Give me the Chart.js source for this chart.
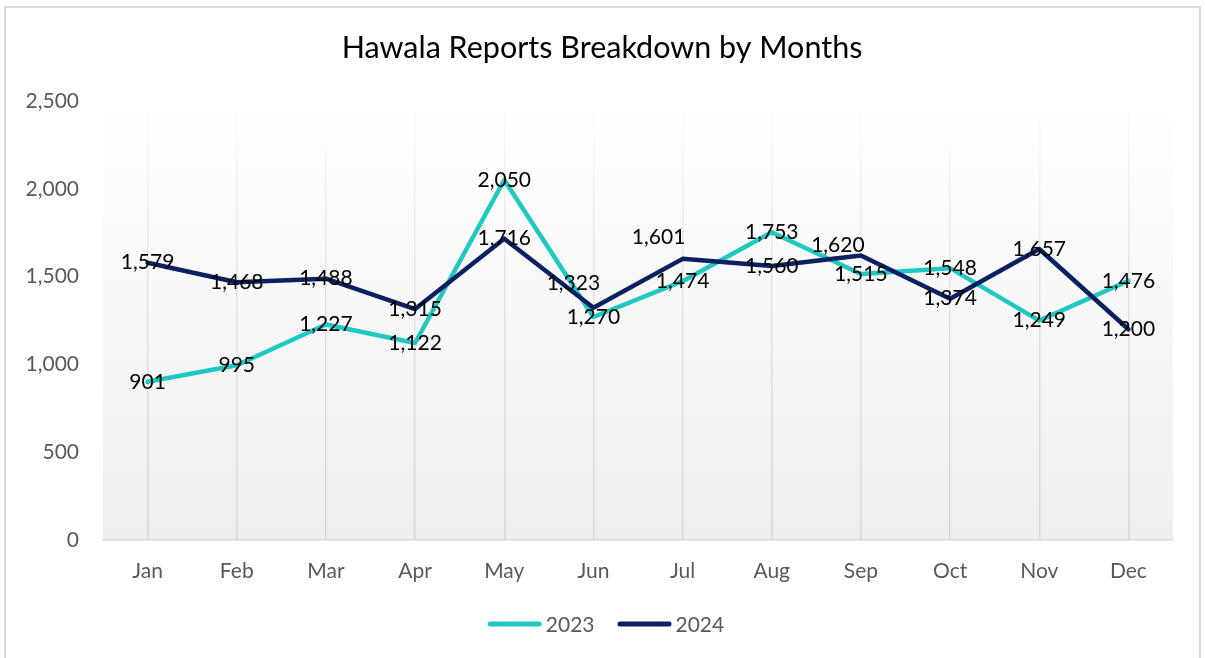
<!DOCTYPE html>
<html lang="en">
<head>
    <meta charset="UTF-8">
    <title>Hawala Reports Breakdown by Months</title>
    <script src="https://cdn.jsdelivr.net/npm/chart.js"></script>
    <style>
        body {
            margin: 0;
            padding: 0;
            background: #fff;
        }
        #chart {
            display: block;
        }
    </style>
</head>
<body>
    <canvas id="chart" width="1205" height="658"></canvas>

    <script>
        // chart data
        const months = ["Jan", "Feb", "Mar", "Apr", "May", "Jun", "Jul", "Aug", "Sep", "Oct", "Nov", "Dec"];
        const reports2023 = [901, 995, 1227, 1122, 2050, 1270, 1474, 1753, 1515, 1548, 1249, 1476];
        const reports2024 = [1579, 1468, 1488, 1315, 1716, 1323, 1601, 1560, 1620, 1374, 1657, 1200];
        const yTicks = [0, 500, 1000, 1500, 2000, 2500];
        const chartTitle = "Hawala Reports Breakdown by Months";

        const FONT = "Lato, 'Open Sans', sans-serif";

        // a few labels were nudged by hand in the original (dataset index -> point index -> [dx, dy])
        const labelNudge = {
            1: { 5: [-20, -24], 6: [-24, -22], 8: [-23, -10] }
        };

        // outer frame + plot gradient + title (title centred on the whole frame)
        const backgroundPlugin = {
            id: "background",
            beforeDraw(chart) {
                const { ctx, chartArea } = chart;
                ctx.save();
                ctx.fillStyle = "#fff";
                ctx.fillRect(0, 0, chart.width, chart.height);
                ctx.strokeStyle = "#d9d9d9";
                ctx.lineWidth = 2;
                ctx.strokeRect(5, 7, 1195, 700);
                const g = ctx.createLinearGradient(0, chartArea.top, 0, chartArea.bottom);
                g.addColorStop(0, "#ffffff");
                g.addColorStop(1, "#efefef");
                ctx.fillStyle = g;
                ctx.fillRect(chartArea.left, chartArea.top, chartArea.right - chartArea.left, chartArea.bottom - chartArea.top);

                ctx.fillStyle = "#000";
                ctx.font = "30.5px " + FONT;
                ctx.textAlign = "center";
                ctx.textBaseline = "middle";
                ctx.fillText(chartTitle, 602, 48);
                ctx.restore();
            }
        };

        // value labels on each point
        const valueLabels = {
            id: "valueLabels",
            afterDatasetsDraw(chart) {
                const { ctx } = chart;
                ctx.save();
                ctx.font = "21px " + FONT;
                ctx.fillStyle = "#000";
                ctx.textAlign = "center";
                ctx.textBaseline = "middle";
                chart.data.datasets.forEach((ds, di) => {
                    const meta = chart.getDatasetMeta(di);
                    meta.data.forEach((pt, i) => {
                        const nudge = (labelNudge[di] && labelNudge[di][i]) || [0, 0];
                        ctx.fillText(ds.data[i].toLocaleString("en-US"), pt.x + nudge[0], pt.y + nudge[1]);
                    });
                });
                ctx.restore();
            }
        };

        // legend drawn by hand so the spacing matches (line, small gap, text)
        const lineLegend = {
            id: "lineLegend",
            afterDraw(chart) {
                const { ctx } = chart;
                const lineW = 54, gap = 4, itemGap = 23, y = 624, cx = 606;
                ctx.save();
                ctx.font = "21px " + FONT;
                ctx.textBaseline = "middle";
                const items = chart.data.datasets.map(ds => ({ ds, w: ctx.measureText(ds.label).width }));
                const total = items.reduce((s, it) => s + lineW + gap + it.w, 0) + itemGap * (items.length - 1);
                let x = cx - total / 2;
                items.forEach(({ ds, w }) => {
                    ctx.strokeStyle = ds.borderColor;
                    ctx.lineWidth = 5;
                    ctx.lineCap = "round";
                    ctx.beginPath();
                    ctx.moveTo(x + 2.5, y);
                    ctx.lineTo(x + lineW - 2.5, y);
                    ctx.stroke();
                    ctx.fillStyle = "#595959";
                    ctx.fillText(ds.label, x + lineW + gap, y + 1);
                    x += lineW + gap + w + itemGap;
                });
                ctx.restore();
            }
        };

        const gridColor = (context) => {
            const chart = context.chart;
            const area = chart.chartArea;
            if (!area) return "#d9d9d9";
            const g = chart.ctx.createLinearGradient(0, area.top, 0, area.bottom);
            g.addColorStop(0, "rgba(217,217,217,0)");
            g.addColorStop(0.35, "rgba(217,217,217,0.6)");
            g.addColorStop(1, "rgba(217,217,217,1)");
            return g;
        };

        new Chart(document.getElementById("chart").getContext("2d"), {
            type: "line",
            data: {
                labels: months,
                datasets: [
                    {
                        label: "2023",
                        data: reports2023,
                        borderColor: "#1fc9c1",
                        backgroundColor: "#1fc9c1",
                        order: 1
                    },
                    {
                        label: "2024",
                        data: reports2024,
                        borderColor: "#0b215f",
                        backgroundColor: "#0b215f",
                        order: 0
                    }
                ]
            },
            options: {
                responsive: false,
                animation: false,
                layout: {
                    padding: { left: 0, right: 32, top: 101, bottom: 56 }
                },
                elements: {
                    line: {
                        tension: 0,
                        borderWidth: 4.5,
                        borderCapStyle: "round",
                        borderJoinStyle: "round"
                    },
                    point: { radius: 0, hoverRadius: 0 }
                },
                plugins: {
                    title: { display: false },
                    legend: { display: false },
                    tooltip: { enabled: false }
                },
                scales: {
                    x: {
                        offset: true,
                        grid: {
                            offset: false,
                            color: gridColor,
                            lineWidth: 1.5,
                            drawTicks: false
                        },
                        border: { color: "#d9d9d9", width: 1.5 },
                        ticks: {
                            color: "#595959",
                            font: { family: FONT, size: 21 },
                            padding: 19,
                            maxRotation: 0
                        },
                        afterFit(scale) { scale.height = 62; }
                    },
                    y: {
                        min: yTicks[0],
                        max: yTicks[yTicks.length - 1],
                        grid: { display: false, drawTicks: false },
                        border: { display: false },
                        afterBuildTicks(scale) {
                            scale.ticks = yTicks.map(v => ({ value: v }));
                        },
                        ticks: {
                            color: "#595959",
                            font: { family: FONT, size: 21 },
                            padding: 24,
                            callback: (v) => v.toLocaleString("en-US")
                        },
                        afterFit(scale) { scale.width = 103; }
                    }
                }
            },
            plugins: [backgroundPlugin, valueLabels, lineLegend]
        });
    </script>
</body>
</html>
